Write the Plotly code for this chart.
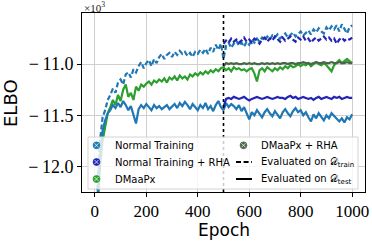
import plotly.graph_objects as go

epochs = list(range(0, 1001, 10))
epochs_rha = list(range(500, 1001, 10))

nt_train = [-12.9, -12.2, -11.75, -11.52, -11.45, -11.35, -11.30, -11.24, -11.28, -11.18,
            -11.15, -11.20, -11.10, -11.08, -11.13, -11.05, -11.08, -11.02, -10.98, -11.04,
            -10.99, -10.96, -11.02, -10.95, -10.99, -10.93, -10.90, -10.95, -10.91, -10.89,
            -10.93, -10.88, -10.91, -10.87, -10.90, -10.88, -10.92, -10.89, -10.93, -10.88,
            -10.90, -10.86, -10.89, -10.85, -10.90, -10.84, -10.88, -10.81, -10.86, -10.80,
            -10.95, -10.82, -10.79, -10.84, -10.80, -10.77, -10.82, -10.79, -10.83, -10.78,
            -10.81, -10.76, -10.79, -10.75, -10.78, -10.74, -10.77, -10.73, -10.76, -10.72,
            -10.74, -10.71, -10.75, -10.72, -10.70, -10.74, -10.71, -10.69, -10.73, -10.70,
            -10.68, -10.72, -10.69, -10.67, -10.71, -10.66, -10.69, -10.65, -10.68, -10.70,
            -10.64, -10.67, -10.63, -10.66, -10.62, -10.68, -10.61, -10.66, -10.70, -10.64,
            -10.62]

nt_test = [-12.9, -12.3, -11.9, -11.65, -11.55, -11.48, -11.45, -11.40, -11.43, -11.38,
           -11.42, -11.36, -11.40, -11.45, -11.41, -11.50, -11.58, -11.44, -11.40, -11.43,
           -11.39, -11.42, -11.45, -11.40, -11.43, -11.41, -11.44, -11.42, -11.40, -11.44,
           -11.41, -11.39, -11.43, -11.38, -11.41, -11.37, -11.40, -11.44, -11.39, -11.42,
           -11.45, -11.40, -11.43, -11.38, -11.44, -11.41, -11.46, -11.40, -11.36, -11.42,
           -11.45, -11.38, -11.42, -11.39, -11.41, -11.44, -11.40, -11.46, -11.42, -11.48,
           -11.54, -11.47, -11.50, -11.45, -11.49, -11.52, -11.47, -11.44, -11.48, -11.51,
           -11.46, -11.49, -11.53, -11.47, -11.44, -11.48, -11.51, -11.46, -11.43, -11.47,
           -11.45, -11.50, -11.47, -11.52, -11.56, -11.49, -11.53, -11.48, -11.51, -11.55,
           -11.50, -11.53, -11.48, -11.51, -11.54, -11.56, -11.53, -11.57, -11.52, -11.54,
           -11.49]

dm_test = [-12.9, -12.4, -12.0, -11.75, -11.60, -11.48, -11.42, -11.35, -11.40, -11.30,
           -11.36, -11.25, -11.20, -11.32, -11.28, -11.35, -11.22, -11.26, -11.20, -11.22,
           -11.19, -11.17, -11.20, -11.16, -11.18, -11.15, -11.17, -11.14, -11.18, -11.13,
           -11.15, -11.12, -11.16, -11.11, -11.14, -11.12, -11.15, -11.10, -11.12, -11.09,
           -11.11, -11.08, -11.10, -11.07, -11.09, -11.06, -11.08, -11.05, -11.07, -11.04,
           -11.03, -11.06, -11.04, -11.07, -11.03, -11.05, -11.04, -11.06, -11.05, -11.07,
           -11.05, -11.04, -11.09, -11.17, -11.06, -11.04, -11.07, -11.03, -11.05, -11.07,
           -11.04, -11.06, -11.03, -11.05, -11.02, -11.04, -11.01, -11.03, -11.02, -11.00,
           -11.02, -11.00, -11.01, -10.99, -11.02, -11.00, -10.98, -11.00, -11.01, -10.99,
           -11.01, -11.04, -11.07, -11.01, -10.98, -10.96, -10.99, -10.97, -10.95, -10.97,
           -10.99]

ntrha_train = [-10.80, -10.77, -10.79, -10.75, -10.78, -10.76, -10.79, -10.77, -10.74, -10.78,
               -10.76, -10.79, -10.75, -10.77, -10.80, -10.76, -10.74, -10.78, -10.75, -10.77,
               -10.73, -10.76, -10.78, -10.74, -10.77, -10.75, -10.73, -10.76, -10.78, -10.74,
               -10.76, -10.73, -10.77, -10.75, -10.79, -10.76, -10.74, -10.77, -10.75, -10.73,
               -10.76, -10.74, -10.77, -10.75, -10.80, -10.76, -10.74, -10.77, -10.75, -10.76,
               -10.74]

ntrha_test = [-11.42, -11.34, -11.33, -11.34, -11.32, -11.33, -11.34, -11.33, -11.32, -11.34,
              -11.355, -11.34, -11.33, -11.32, -11.33, -11.34, -11.33, -11.32, -11.33, -11.34,
              -11.33, -11.32, -11.33, -11.33, -11.34, -11.32, -11.31, -11.33, -11.32, -11.34,
              -11.33, -11.32, -11.33, -11.34, -11.33, -11.35, -11.33, -11.32, -11.34, -11.33,
              -11.32, -11.33, -11.34, -11.32, -11.33, -11.32, -11.34, -11.33, -11.32, -11.33,
              -11.33]

dmrha_test = [-11.02, -10.99, -11.00, -10.99, -11.00, -10.99, -11.00, -11.00, -10.99, -11.00,
              -10.99, -11.00, -10.99, -11.00, -11.00, -10.99, -11.00, -10.99, -11.00, -10.99,
              -11.00, -10.99, -11.00, -10.99, -10.99, -11.00, -10.99, -10.99, -11.00, -10.99,
              -10.99, -10.98, -10.99, -10.99, -11.00, -10.99, -10.98, -10.99, -10.99, -10.98,
              -10.99, -10.99, -10.98, -10.99, -10.99, -10.98, -10.99, -10.99, -10.98, -10.99,
              -10.99]

x_ticks = [0, 200, 400, 600, 800, 1000]
y_ticks = [-12.0, -11.5, -11.0]
y_ticktext = ["\u2212\u200912.0", "\u2212\u200911.5", "\u2212\u200911.0"]
rha_start = 500

C_NT = "#1f77b4"
C_NTRHA = "#2525b5"
C_DM = "#2ca02c"
C_DMRHA = "#4a674a"
DASH = "5px,2.6px"
LW = 2.2

fig = go.Figure()

def line(x, y, color, dash):
    fig.add_trace(go.Scatter(x=x, y=y, mode="lines", showlegend=False,
                             line=dict(color=color, width=LW, dash=dash)))

line(epochs, dm_test, C_DM, "solid")
line(epochs, nt_test, C_NT, "solid")
line(epochs, nt_train, C_NT, DASH)
line(epochs_rha, ntrha_train, C_NTRHA, DASH)
line(epochs_rha, ntrha_test, C_NTRHA, "solid")
line(epochs_rha, dmrha_test, C_DMRHA, "solid")

# vertical marker at the RHA start
fig.add_shape(type="line", x0=rha_start, x1=rha_start, xref="x", y0=0, y1=1, yref="paper",
              line=dict(color="black", width=1.6, dash="dot"), layer="above")

# ---- manual legend (layout, paper coordinates) ----
L, R, T, B = 82, 365, 13, 192
PX_W, PX_H = float(R - L), float(B - T)
def px(xp):
    return (xp - L) / PX_W
def py(yp):
    return (B - yp) / PX_H

fig.add_shape(type="rect", xref="paper", yref="paper",
              x0=px(88), x1=px(358), y0=py(189), y1=py(137),
              fillcolor="rgba(255,255,255,0.8)", line=dict(color="#d4d4d4", width=1),
              layer="above")

rows = [145.3, 162.0, 179.0]
col1_marker, col1_text = 96.5, 112.5
col2_marker, col2_text = 243.5, 258.5

marker_items = [
    ("Normal Training", C_NT, col1_marker, col1_text, rows[0]),
    ("Normal Training + RHA", C_NTRHA, col1_marker, col1_text, rows[1]),
    ("DMaaPx", C_DM, col1_marker, col1_text, rows[2]),
    ("DMaaPx + RHA", C_DMRHA, col2_marker, col2_text, rows[0]),
]
line_items = [
    ("Evaluated on \U0001D49F<sub>train</sub>", DASH, rows[1]),
    ("Evaluated on \U0001D49F<sub>test</sub>", "solid", rows[2]),
]

LEG_FONT = dict(family="DejaVu Sans", size=10, color="black")

for name, color, mx, tx, ry in marker_items:
    fig.add_shape(type="circle", xref="paper", yref="paper",
                  xsizemode="pixel", ysizemode="pixel",
                  xanchor=px(mx), yanchor=py(ry), x0=-3.4, x1=3.4, y0=-3.4, y1=3.4,
                  fillcolor=color, line=dict(color=color, width=0.8), layer="above")
    for sx in (1, -1):
        fig.add_shape(type="line", xref="paper", yref="paper",
                      xsizemode="pixel", ysizemode="pixel",
                      xanchor=px(mx), yanchor=py(ry), x0=-2.0, x1=2.0, y0=-2.0 * sx, y1=2.0 * sx,
                      line=dict(color="rgba(255,255,255,0.75)", width=1), layer="above")
    fig.add_annotation(x=px(tx), y=py(ry), xref="paper", yref="paper",
                       xanchor="left", yanchor="middle", text=name, showarrow=False,
                       font=LEG_FONT)

for name, dash, ry in line_items:
    fig.add_shape(type="line", xref="paper", yref="paper",
                  x0=px(236), x1=px(252), y0=py(ry), y1=py(ry),
                  line=dict(color="black", width=2, dash=dash), layer="above")
    fig.add_annotation(x=px(col2_text), y=py(ry), xref="paper", yref="paper",
                       xanchor="left", yanchor="middle", text=name, showarrow=False,
                       font=LEG_FONT)

# exponent and axis titles
fig.add_annotation(x=0, y=1, xref="paper", yref="paper", xanchor="left", yanchor="bottom",
                   text="\u00d710<sup>3</sup>", showarrow=False,
                   font=dict(family="Liberation Serif", size=11, color="#222"), yshift=-3)
fig.add_annotation(x=px(223.5), y=py(230.5), xref="paper", yref="paper",
                   xanchor="center", yanchor="middle", text="Epoch", showarrow=False,
                   font=dict(family="DejaVu Sans", size=17, color="black"))
fig.add_annotation(x=px(10), y=py(103), xref="paper", yref="paper",
                   xanchor="center", yanchor="middle", text="ELBO", showarrow=False,
                   textangle=-90,
                   font=dict(family="DejaVu Sans", size=18, color="black"))

fig.update_layout(
    width=372, height=242,
    margin=dict(l=L, r=372 - R, t=T, b=242 - B, autoexpand=False),
    plot_bgcolor="white", paper_bgcolor="white",
    showlegend=False,
    xaxis=dict(range=[-50, 1050], tickvals=x_ticks, ticks="outside", ticklen=3.5,
               tickcolor="black", showgrid=True, gridcolor="#cfcfcf", gridwidth=1,
               showline=True, linecolor="black", linewidth=1, mirror=True, zeroline=False,
               automargin=False,
               tickfont=dict(family="Liberation Serif", size=17, color="black")),
    yaxis=dict(range=[-12.25, -10.5], tickvals=y_ticks, ticktext=y_ticktext,
               ticks="outside", ticklen=4, tickcolor="black",
               showgrid=True, gridcolor="#cfcfcf", gridwidth=1,
               showline=True, linecolor="black", linewidth=1, mirror=True, zeroline=False,
               automargin=False,
               tickfont=dict(family="Liberation Serif", size=18, color="black")),
)

fig.write_html("out.html", config={"displayModeBar": False},
               post_script="document.body.style.margin='0';document.body.style.padding='0';")
